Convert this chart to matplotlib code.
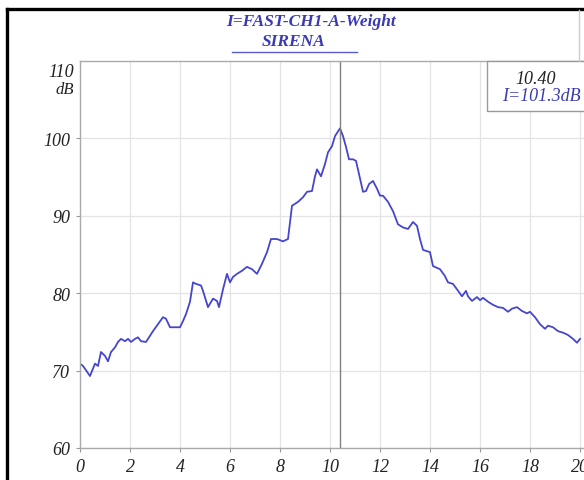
import matplotlib
matplotlib.use("Agg")
import matplotlib.pyplot as plt
from matplotlib.lines import Line2D
from matplotlib.patches import Rectangle

# Sound level trace (A-weighted, FAST) over time
time_s = [0.0, 0.12, 0.4, 0.6, 0.72, 0.84, 1.0, 1.12, 1.24, 1.4, 1.52, 1.64, 1.8,
          1.92, 2.04, 2.2, 2.32, 2.44, 2.64, 2.8, 2.92, 3.12, 3.32, 3.44, 3.6, 3.8,
          4.0, 4.12, 4.24, 4.4, 4.52, 4.64, 4.84, 4.92, 5.12, 5.32, 5.48, 5.56,
          5.72, 5.88, 6.0, 6.12, 6.28, 6.48, 6.68, 6.88, 7.08, 7.28, 7.48, 7.64,
          7.88, 8.12, 8.32, 8.48, 8.72, 8.92, 9.08, 9.28, 9.4, 9.48, 9.64, 9.8,
          9.92, 10.08, 10.2, 10.4, 10.52, 10.64, 10.76, 10.92, 11.04, 11.16,
          11.32, 11.44, 11.56, 11.72, 11.88, 12.0, 12.12, 12.32, 12.52, 12.72,
          12.92, 13.12, 13.32, 13.48, 13.6, 13.72, 14.0, 14.12, 14.4, 14.6,
          14.72, 14.92, 15.08, 15.28, 15.44, 15.52, 15.68, 15.88, 16.0, 16.12,
          16.32, 16.52, 16.72, 16.92, 17.12, 17.28, 17.48, 17.68, 17.88, 18.0,
          18.2, 18.4, 18.6, 18.72, 18.92, 19.12, 19.32, 19.52, 19.72, 19.88, 20.0]
level_db = [70.9, 70.6, 69.3, 70.9, 70.6, 72.4, 71.9, 71.2, 72.4, 73.0, 73.7, 74.1, 73.8,
            74.1, 73.7, 74.1, 74.3, 73.8, 73.7, 74.5, 75.1, 76.0, 76.9, 76.7, 75.6, 75.6,
            75.6, 76.4, 77.3, 78.9, 81.4, 81.2, 81.0, 80.3, 78.2, 79.3, 79.0, 78.2,
            80.5, 82.5, 81.4, 82.1, 82.5, 82.9, 83.4, 83.1, 82.5, 83.8, 85.3, 87.0,
            87.0, 86.7, 87.0, 91.3, 91.8, 92.4, 93.1, 93.2, 95.1, 96.0, 95.1, 96.7,
            98.2, 99.0, 100.3, 101.3, 100.3, 98.9, 97.3, 97.3, 97.1, 95.4,
            93.1, 93.2, 94.1, 94.5, 93.5, 92.6, 92.6, 91.8, 90.6, 88.9,
            88.5, 88.3, 89.2, 88.7, 87.0, 85.6, 85.3, 83.5, 83.1, 82.2,
            81.4, 81.2, 80.5, 79.6, 80.3, 79.6, 79.0, 79.5, 79.1, 79.4,
            78.9, 78.5, 78.2, 78.1, 77.6, 78.0, 78.2, 77.7, 77.4, 77.6,
            76.9, 76.0, 75.4, 75.8, 75.6, 75.1, 74.9, 74.6, 74.1, 73.6, 74.1]

x_ticks = [0, 2, 4, 6, 8, 10, 12, 14, 16, 18, 20]
y_ticks = [60, 70, 80, 90, 100]
cursor_time = 10.40
cursor_level = 101.3

title_line1 = "I=FAST-CH1-A-Weight"
title_line2 = "SIRENA"

BLUE = "#3a3ab4"
TRACE = "#4646cc"
INK = "#222222"
SERIF = ["Liberation Serif", "DejaVu Serif"]
LABEL_FONT = dict(family=SERIF, style="italic", size=13, color=INK)

W, H = 584, 481
fig = plt.figure(figsize=(W / 100, H / 100), dpi=100)
fig.patch.set_facecolor("white")

def fx(px):
    return px / W

def fy(py):
    return 1 - py / H

ax_left, ax_right, ax_top, ax_bottom = 80, 584, 62, 449
ax = fig.add_axes([fx(ax_left), fy(ax_bottom), fx(ax_right - ax_left),
                   (ax_bottom - ax_top) / H])
ax.set_xlim(0, 20 * (ax_right - ax_left) / 500)
ax.set_ylim(60, 110)

ax.plot(time_s, level_db, color=TRACE, lw=1.3, solid_joinstyle="round")
ax.axvline(cursor_time, color="#808080", lw=1.0)

ax.tick_params(axis="both", length=3, width=0.8, color="#999999", pad=4)
ax.set_xticks(x_ticks)
ax.set_xticklabels([str(t) for t in x_ticks], fontdict=LABEL_FONT)
ax.set_yticks(y_ticks)
ax.set_yticklabels([str(t) for t in y_ticks], fontdict=LABEL_FONT)

ax.grid(True, color="#e4e4e4", lw=0.9)
ax.set_axisbelow(True)
for side in ("left", "bottom", "top"):
    ax.spines[side].set_color("#aaaaaa")
    ax.spines[side].set_linewidth(1.0)
ax.spines["right"].set_visible(False)

# top-left axis label
fig.text(fx(74), fy(73), "110", ha="right", va="center", **LABEL_FONT)
fig.text(fx(74), fy(90), "dB", ha="right", va="center", family=SERIF,
         style="italic", size=12, color=INK)

# header
fig.text(fx(311), fy(22), title_line1, ha="center", va="center", family=SERIF,
         style="italic", weight="bold", fontsize=12.5, color=BLUE)
fig.text(fx(294), fy(42), title_line2, ha="center", va="center", family=SERIF,
         style="italic", weight="bold", fontsize=12.5, color=BLUE)
fig.add_artist(Line2D([fx(232), fx(357)], [fy(53), fy(53)], transform=fig.transFigure,
                      color="#5a5ad0", lw=1.0))

# cursor readout box
fig.add_artist(Rectangle((fx(487), fy(112)), fx(600 - 487), (112 - 62) / H,
                         transform=fig.transFigure, fill=True, facecolor="white",
                         edgecolor="#999999", lw=1.0))
fig.text(fx(536), fy(80), f"{cursor_time:.2f}", ha="center", va="center",
         **LABEL_FONT)
fig.text(fx(541), fy(97), f"I={cursor_level:.1f}dB", ha="center", va="center",
         family=SERIF, style="italic", size=13, color=BLUE)

# window frame
fig.add_artist(Line2D([fx(6.5), fx(6.5)], [fy(9.5), 0], transform=fig.transFigure,
                      color="black", lw=2.4, solid_capstyle="projecting"))
fig.add_artist(Line2D([fx(6.5), 1], [fy(9.5), fy(9.5)], transform=fig.transFigure,
                      color="black", lw=2.4, solid_capstyle="projecting"))
fig.add_artist(Line2D([fx(579), fx(579)], [fy(11), fy(62)], transform=fig.transFigure,
                      color="#cccccc", lw=1.0))

fig.savefig("out.png", dpi=100)
